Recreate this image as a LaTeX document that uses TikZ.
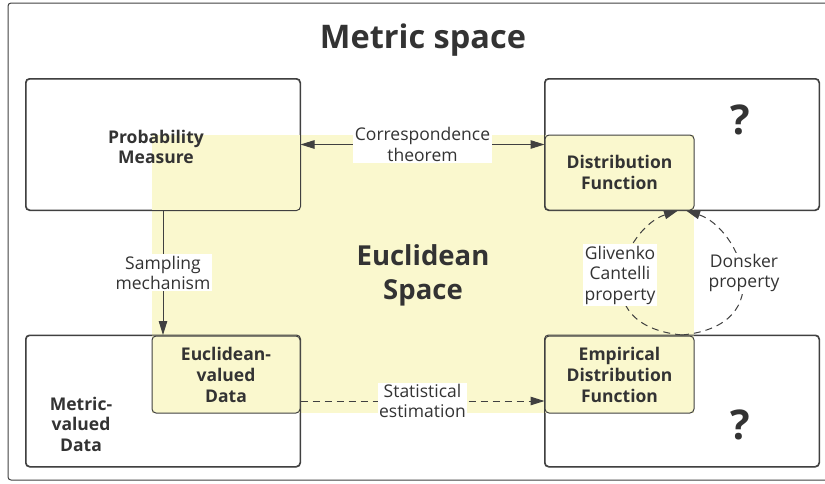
\documentclass[tikz,border=0pt]{standalone}
\usepackage{fontspec}
\setmainfont{Open Sans}
\usetikzlibrary{arrows.meta}
\definecolor{euclid}{RGB}{250,248,206}
\definecolor{linegray}{RGB}{64,64,64}
\definecolor{textgray}{RGB}{51,51,51}
\tikzset{
	spacebox/.style={draw=linegray,line width=1pt,rounded corners=4pt,fill=white,inner sep=0pt},
	eubox/.style={draw=linegray,line width=1pt,rounded corners=4pt,fill=euclid,inner sep=0pt,align=center,
		font=\bfseries\fontsize{17.5}{21}\selectfont,text=textgray},
	boldlbl/.style={align=center,font=\bfseries\fontsize{17.5}{20.5}\selectfont,text=textgray},
	arrlbl/.style={fill=white,inner sep=1.5pt,align=center,font=\fontsize{17.5}{20.5}\selectfont,text=textgray},
	conn/.style={draw=linegray,line width=1pt},
	dashconn/.style={conn,dash pattern=on 7pt off 5pt},
	tip/.style={-{Triangle[length=14pt,width=8.5pt]}}
}
\begin{document}
\begin{tikzpicture}[x=1pt,y=-1pt]
	\clip (0,0) rectangle (825,483);
	\draw[linegray,line width=1pt,rounded corners=3pt]
	(8,3) rectangle (845,480);
	\node[font=\bfseries\fontsize{32.5}{36}\selectfont,text=textgray] (title) at (423,40) {Metric space};
	\node[spacebox,minimum width=274pt,minimum height=131pt] (pm) at (163,144.5) {};
	\node[spacebox,minimum width=274pt,minimum height=131pt] (qt) at (682,144.5) {};
	\node[spacebox,minimum width=274pt,minimum height=131pt] (mv) at (163,401) {};
	\node[spacebox,minimum width=274pt,minimum height=131pt] (qb) at (682,401) {};
	\fill[euclid] (152,135) rectangle (694,413);
	\foreach \b in {pm,qt,mv,qb}
		\draw[linegray,line width=1pt,rounded corners=4pt] (\b.north west) rectangle (\b.south east);
	\node[eubox,minimum width=149pt,minimum height=75pt] (df) at (619.5,172.5) {Distribution\\Function};
	\node[eubox,minimum width=148pt,minimum height=77pt] (ev) at (226,374.5) {Euclidean-\\valued\\Data};
	\node[eubox,minimum width=149pt,minimum height=77pt] (edf) at (619.5,374.5) {Empirical\\Distribution\\Function};
	\node[boldlbl] (pmtext) at (156,147) {Probability\\Measure};
	\node[boldlbl] (mvtext) at (81,424) {Metric-\\valued\\Data};
	\node[font=\bfseries\fontsize{27.5}{34}\selectfont,text=textgray,align=center] (euspace) at (423,275) {Euclidean\\Space};
	\node[font=\bfseries\fontsize{41}{42}\selectfont,text=textgray] (qtop) at (740,120) {?};
	\node[font=\bfseries\fontsize{41}{42}\selectfont,text=textgray] (qbot) at (740,425) {?};

	\draw[conn,{Triangle[length=14pt,width=8.5pt]}-{Triangle[length=14pt,width=8.5pt]}]
	(pm.east) -- (qt.west) node[midway,arrlbl]{Correspondence\\theorem};
	\draw[conn,tip] (pm.south) -- (mv.north) node[midway,arrlbl]{Sampling\\mechanism};
	\draw[dashconn,tip] (mv.east) -- (qb.west) node[midway,arrlbl]{Statistical\\estimation};
	\draw[dashconn,tip] (qb.north) .. controls (582,325) and (625,228) .. ([xshift=-4pt]qt.south);
	\draw[dashconn,tip] (qb.north) .. controls (782,325) and (739,228) .. ([xshift=4pt]qt.south);
	\node[arrlbl] (gc) at (620,275) {Glivenko\\Cantelli\\property};
	\node[arrlbl] (dk) at (744,273) {Donsker\\property};
\end{tikzpicture}
\end{document}
